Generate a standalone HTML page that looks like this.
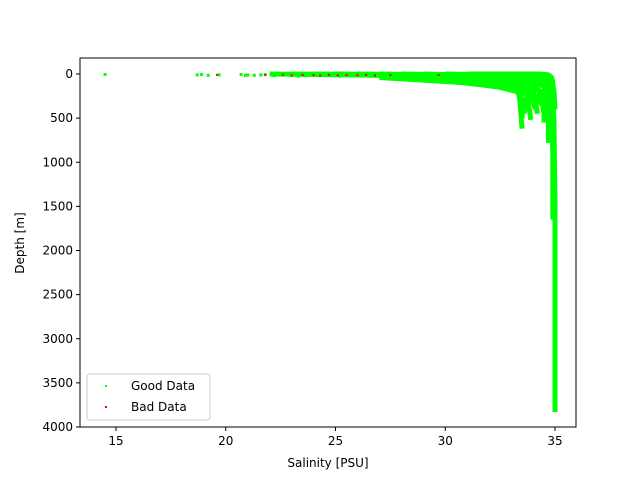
<!DOCTYPE html>
<html><head><meta charset="utf-8"><style>
body{margin:0;background:#fff;font-family:"Liberation Sans","DejaVu Sans",sans-serif}
svg text{font-family:"DejaVu Sans","Liberation Sans",sans-serif;font-size:12px;fill:#000}
</style></head><body>
<svg id="c" width="640" height="480" xmlns="http://www.w3.org/2000/svg"></svg>
<script>
const xTicks=[15,20,25,30,35];
const yTicks=[0,500,1000,1500,2000,2500,3000,3500,4000];
// profiles: salinity and depth arrays
const profSal=[
 [22,26,29,31,32.5,33.3,33.4,33.5],
 [23,27,30,32,33.2,33.7,33.8,33.9],
 [24,28,31.5,33,33.9,34.1,34.2],
 [25,29,32,33.5,34.2,34.4,34.5,34.5],
 [26,30,33,34,34.5,34.6,34.7,34.7],
 [27,31,33.5,34.3,34.7,34.85,34.9,34.9],
 [28,32,34,34.6,34.85,34.95,35.0,35.0],
 [30,33.5,34.4,34.8,34.95,35.0],
 [29,33,34,34.5,34.7,34.85,34.9],
 [31,34.3,34.7,34.85,34.9,34.95,35.0],
 [27,29,31,32.5,33.3,33.5,33.5],
 [28,30.5,32.3,33.3,33.6,33.6],
 [29,31.5,33,33.8,34.0,34.1],
 [30,32.5,33.8,34.3,34.4],
 [32,34,34.6,34.8,34.9]
];
const profDep=[
 [0,10,30,60,100,170,300,620],
 [0,10,30,55,90,180,350,520],
 [0,10,40,70,120,280,450],
 [0,15,40,80,150,300,450,550],
 [0,15,40,80,140,300,500,780],
 [0,15,40,70,130,400,900,1650],
 [0,15,30,60,130,500,1500,3830],
 [0,15,40,90,180,400],
 [0,20,50,100,180,300,450],
 [0,0,10,40,100,250,400],
 [40,70,100,150,200,300,500],
 [50,90,140,200,300,450],
 [60,110,170,230,300,400],
 [80,140,200,280,350],
 [100,160,230,300,380]
];
const surfSal=[14.5,18.7,18.9,19.2,19.7,20.7,21.0,21.3,21.8,22.5,23.0,23.6,24.2,24.8,25.5,26.2,27.0,27.7,20.9,21.6,22.2,22.9,23.3,24.5,25.2,25.9,26.6,27.3];
const surfDep=[5,10,5,15,10,5,10,15,5,10,15,20,15,20,10,20,15,25,15,10,20,5,25,10,25,5,25,10];
const badSal=[19.6,21.8,22.6,23.0,23.5,24.0,24.3,24.7,25.1,25.5,26.0,26.4,26.8,27.5,29.7];
const badDep=[10,12,8,15,10,12,18,10,15,12,14,10,16,12,10];
const svg=document.getElementById('c');
const NS='http://www.w3.org/2000/svg';
const L=80,R=576,T=58,B=427;
const X=v=>116+(v-15)*21.95;
const Y=v=>74+v*0.08825;
function mk(t,a,p){const e=document.createElementNS(NS,t);for(const k in a)e.setAttribute(k,a[k]);(p||svg).appendChild(e);return e;}
const plot=mk('g',{});


profSal.forEach((s,i)=>{
 const d=profDep[i];
 const pts=s.map((v,j)=>X(v)+','+Y(d[j])).join(' ');
 const pl=mk('polyline',{points:pts,fill:'none',stroke:'#00ff00','stroke-width':5,'stroke-linejoin':'round'},plot);
 
 
});
surfSal.forEach((v,i)=>{
 const c=mk('rect',{x:X(v)-1.5,y:Y(surfDep[i])-1.5,width:3,height:3,fill:'#00ff00'},plot);
 
 
});
badSal.forEach((v,i)=>{
 const c=mk('rect',{x:X(v)-1,y:Y(badDep[i])-1,width:2,height:2,fill:'#ff0000'},plot);
 
 
});
const fr=mk('rect',{x:L,y:T,width:R-L,height:B-T,fill:'none',stroke:'#000','stroke-width':1});


xTicks.forEach(v=>{
 mk('line',{x1:X(v),x2:X(v),y1:B,y2:B+4,stroke:'#000'});
 const t=mk('text',{x:X(v),y:B+18,'text-anchor':'middle'});t.textContent=v;
 
 
});
yTicks.forEach(v=>{
 mk('line',{x1:L-4,x2:L,y1:Y(v),y2:Y(v),stroke:'#000'});
 const t=mk('text',{x:L-7,y:Y(v)+4,'text-anchor':'end'});t.textContent=v;
 
 
});
</script>
<svg style="position:absolute;left:0;top:0" width="640" height="480" xmlns="http://www.w3.org/2000/svg">
<text x="328" y="467" text-anchor="middle">Salinity [PSU]</text>
<text transform="translate(24,243) rotate(-90)" text-anchor="middle">Depth [m]</text>
<g>
<rect x="87" y="374" width="123" height="46" rx="3" fill="#fff" fill-opacity="0.8" stroke="#ccc"/>
<rect x="105" y="385" width="2" height="2" fill="#00ff00"/>
<text x="131" y="390">Good Data</text>
<rect x="105" y="406" width="2" height="2" fill="#ff0000"/>
<text x="131" y="411">Bad Data</text>
</g>
</svg>
</body></html>
